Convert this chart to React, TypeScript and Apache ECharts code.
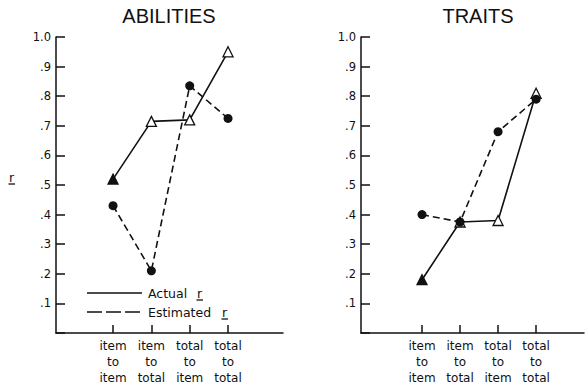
import React, { useEffect, useRef } from "react";
import * as echarts from "echarts";

// Category labels along the bottom of each panel
const categories = ["item\nto\nitem", "item\nto\ntotal", "total\nto\nitem", "total\nto\ntotal"];
const categoryPositions = [1, 2, 3, 4];

// Correlations for the ABILITIES panel
const abilitiesActual = [0.52, 0.715, 0.72, 0.95];
const abilitiesEstimated = [0.43, 0.21, 0.835, 0.725];

// Correlations for the TRAITS panel
const traitsActual = [0.18, 0.375, 0.38, 0.81];
const traitsEstimated = [0.4, 0.375, 0.68, 0.79];

// Which "actual" points use a solid triangle
const actualFilled = [true, false, false, false];

const panelTitles = ["ABILITIES", "TRAITS"];
const legendLabels = ["Actual", "Estimated"];

const INK = "#111";
const FONT = '"DejaVu Sans", sans-serif';

function yLabel(v: number): string {
  const t = Math.round(v * 10);
  if (t === 0) return "";
  if (t === 10) return "1.0";
  return "." + t;
}

function xAxisFor(gridIndex: number, min: number, max: number) {
  return {
    type: "value",
    gridIndex,
    min,
    max,
    axisLine: { show: true, onZero: false, lineStyle: { color: INK, width: 1.5 } },
    axisTick: {
      show: true,
      inside: true,
      length: 8,
      customValues: categoryPositions,
      lineStyle: { color: INK, width: 1.5 },
    },
    axisLabel: {
      customValues: categoryPositions,
      formatter: (v: number) => categories[Math.round(v) - 1] ?? "",
      color: INK,
      fontFamily: FONT,
      fontSize: 12,
      lineHeight: 16,
      margin: 5,
    },
    splitLine: { show: false },
  };
}

function yAxisFor(gridIndex: number) {
  return {
    type: "value",
    gridIndex,
    min: 0,
    max: 1,
    interval: 0.1,
    axisLine: { show: true, onZero: false, lineStyle: { color: INK, width: 1.5 } },
    axisTick: { show: true, inside: true, length: 9, lineStyle: { color: INK, width: 1.5 } },
    axisLabel: {
      formatter: yLabel,
      color: INK,
      fontFamily: FONT,
      fontSize: 11.5,
      margin: 5,
    },
    splitLine: { show: false },
  };
}

function actualSeries(values: number[], idx: number) {
  return {
    type: "line",
    xAxisIndex: idx,
    yAxisIndex: idx,
    z: 2,
    symbol: "triangle",
    symbolSize: 10,
    lineStyle: { color: INK, width: 1.6, type: "solid" },
    data: values.map((v, i) => ({
      value: [categoryPositions[i], v],
      itemStyle: {
        color: actualFilled[i] ? INK : "#fff",
        borderColor: INK,
        borderWidth: 1.3,
      },
    })),
  };
}

function estimatedSeries(values: number[], idx: number) {
  return {
    type: "line",
    xAxisIndex: idx,
    yAxisIndex: idx,
    z: 3,
    symbol: "circle",
    symbolSize: 9,
    itemStyle: { color: INK, borderColor: INK, borderWidth: 0 },
    lineStyle: { color: INK, width: 1.6, type: [7, 4] },
    data: values.map((v, i) => [categoryPositions[i], v]),
  };
}

function underlinedR(x: number, y: number) {
  return [
    {
      type: "text",
      x,
      y,
      style: { text: "r", font: `12.5px ${FONT}`, fill: INK, verticalAlign: "middle" },
    },
    {
      type: "line",
      shape: { x1: x - 0.5, y1: y + 7, x2: x + 6, y2: y + 7 },
      style: { stroke: INK, lineWidth: 1.3 },
    },
  ];
}

export default function App() {
  const ref = useRef<HTMLDivElement>(null);

  useEffect(() => {
    if (!ref.current) return;
    const chart = echarts.init(ref.current, null, { renderer: "svg" });

    const legendY = [293, 312];
    const option = {
      animation: false,
      backgroundColor: "#fff",
      grid: [
        { left: 56, right: 302, top: 37, bottom: 52 },
        { left: 361, right: 1, top: 37, bottom: 52 },
      ],
      xAxis: [xAxisFor(0, -0.488, 5.434), xAxisFor(1, -0.605, 5.26)],
      yAxis: [yAxisFor(0), yAxisFor(1)],
      series: [
        actualSeries(abilitiesActual, 0),
        estimatedSeries(abilitiesEstimated, 0),
        actualSeries(traitsActual, 1),
        estimatedSeries(traitsEstimated, 1),
      ],
      graphic: [
        {
          type: "text",
          x: 169,
          y: 16,
          style: {
            text: panelTitles[0],
            font: '20px "Liberation Sans", sans-serif',
            fill: INK,
            align: "center",
            verticalAlign: "middle",
          },
        },
        {
          type: "text",
          x: 478,
          y: 16,
          style: {
            text: panelTitles[1],
            font: '20px "Liberation Sans", sans-serif',
            fill: INK,
            align: "center",
            verticalAlign: "middle",
          },
        },
        // axis name
        ...underlinedR(9, 177),
        // legend
        {
          type: "line",
          shape: { x1: 87, y1: legendY[0], x2: 142, y2: legendY[0] },
          style: { stroke: INK, lineWidth: 1.5 },
        },
        {
          type: "line",
          shape: { x1: 87, y1: legendY[1], x2: 142, y2: legendY[1] },
          style: { stroke: INK, lineWidth: 1.5, lineDash: [15, 4] },
        },
        {
          type: "text",
          x: 148,
          y: legendY[0],
          style: { text: legendLabels[0], font: `12.5px ${FONT}`, fill: INK, verticalAlign: "middle" },
        },
        {
          type: "text",
          x: 148,
          y: legendY[1],
          style: { text: legendLabels[1], font: `12.5px ${FONT}`, fill: INK, verticalAlign: "middle" },
        },
        ...underlinedR(197, legendY[0]),
        ...underlinedR(222, legendY[1]),
      ],
    };

    chart.setOption(option as any);
    return () => chart.dispose();
  }, []);

  return <div ref={ref} style={{ width: 585, height: 386, position: "absolute", left: 0, top: 0 }} />;
}
